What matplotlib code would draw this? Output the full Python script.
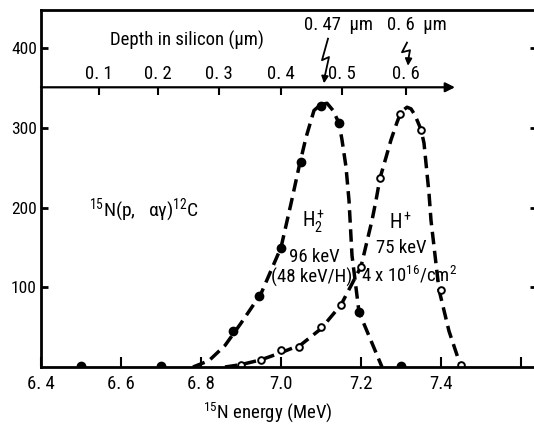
import matplotlib.pyplot as plt

FONT = 'Roboto Condensed'
plt.rcParams['font.family'] = [FONT, 'DejaVu Sans']
plt.rcParams['mathtext.fontset'] = 'custom'
plt.rcParams['mathtext.rm'] = FONT
plt.rcParams['mathtext.it'] = FONT + ':italic'
plt.rcParams['mathtext.bf'] = FONT + ':bold'

# dashed curves
h2_curve_e = [6.78, 6.82, 6.86, 6.90, 6.95, 7.00, 7.025, 7.045, 7.0625, 7.0825, 7.099,
              7.115, 7.13, 7.145, 7.1525, 7.1625, 7.17, 7.1775, 7.195, 7.2275, 7.2525]
h2_curve_y = [0, 8, 27, 55, 92, 150, 205, 251, 288, 322, 329,
              331, 322, 306, 285, 251, 209, 140, 69, 30, 0]
h_curve_e = [6.86, 6.90, 6.95, 7.00, 7.05, 7.10, 7.15, 7.20, 7.2275, 7.2375, 7.2475,
             7.2625, 7.275, 7.29, 7.30, 7.315, 7.325, 7.335, 7.35, 7.3575, 7.365,
             7.37, 7.375, 7.395, 7.42, 7.45]
h_curve_y = [0, 3, 9, 18, 28, 48, 78, 126, 184, 209, 237,
             263, 285, 307, 320, 326, 324, 316, 298, 281, 243,
             218, 184, 97, 45, 0]

# measured points
h2_e = [6.5, 6.7, 6.88, 6.945, 7.0, 7.05, 7.099, 7.145, 7.195, 7.3]
h2_y = [1, 1, 45, 89, 149, 257, 327, 306, 69, 1]
h_e = [6.9, 6.95, 7.0, 7.045, 7.1, 7.15, 7.2, 7.2475, 7.297, 7.35, 7.4, 7.45]
h_y = [3, 9, 21, 25, 50, 78, 126, 237, 317, 298, 97, 2]

# depth scale drawn inside the plot
depth_labels = ['0. 1', '0. 2', '0. 3', '0. 4', '0. 5', '0. 6']
depth_energy = [6.545, 6.6925, 6.845, 7.0, 7.1525, 7.3125]

x_ticks = [6.4, 6.6, 6.8, 7.0, 7.2, 7.4, 7.6]
x_labels = ['6. 4', '6. 6', '6. 8', '7.0', '7.2', '7.4', '']
y_ticks = [100, 200, 300, 400]

fig = plt.figure(figsize=(5.34, 4.30), dpi=100)
ax = fig.add_axes([41 / 534, 63 / 430, (537 - 41) / 534, 357 / 430])
ax.set_xlim(6.4, 7.64)
ax.set_ylim(0, 448)

ax.plot(h2_curve_e, h2_curve_y, color='black', lw=2.5, dashes=(3.6, 1.9))
ax.plot(h_curve_e, h_curve_y, color='black', lw=2.5, dashes=(3.6, 1.9))
ax.plot(h2_e, h2_y, 'o', color='black', ms=6)
ax.plot(h_e, h_y, 'o', mfc='white', mec='black', mew=1.4, ms=4.8)

for s in ['left', 'bottom', 'top']:
    ax.spines[s].set_linewidth(2)
ax.spines['right'].set_visible(False)

ax.set_xticks(x_ticks)
ax.set_xticklabels(x_labels, fontsize=13.5)
ax.set_yticks(y_ticks)
ax.set_yticklabels([str(v) for v in y_ticks], fontsize=12.5)
ax.tick_params(axis='x', direction='in', length=7, width=1.5, pad=6)
ax.tick_params(axis='y', direction='in', length=5, width=2, pad=3, right=True)

# depth axis
ax.annotate('', xy=(7.435, 351), xytext=(6.4, 351),
            arrowprops=dict(arrowstyle='-|>', color='black', lw=1.6,
                            mutation_scale=14, shrinkA=0, shrinkB=0))
ax.plot(depth_energy, [351] * len(depth_energy), ls='none', marker=3,
        color='black', ms=6, mew=1.5, clip_on=False)
for e, lab in zip(depth_energy, depth_labels):
    ax.text(e, 357, lab, ha='center', va='bottom', fontsize=13.5)
ax.text(6.765, 410, 'Depth in silicon (μm)', ha='center', va='center', fontsize=13.5)

ax.text(7.145, 429, '0. 47  μm', ha='center', va='center', fontsize=13.5)
ax.text(7.34, 429, '0. 6  μm', ha='center', va='center', fontsize=13.5)
bolt1_e = [7.1175, 7.1025, 7.12, 7.11]
bolt1_y = [412, 385, 389, 366]
bolt2_e = [7.315, 7.3025, 7.3225, 7.319]
bolt2_y = [407, 395, 397.5, 388]
ax.plot(bolt1_e, bolt1_y, color='black', lw=1.3)
ax.plot(bolt2_e, bolt2_y, color='black', lw=1.3)
ax.annotate('', xy=(7.1075, 356), xytext=(bolt1_e[-1], bolt1_y[-1]),
            arrowprops=dict(arrowstyle='-|>', color='black', lw=1.3,
                            mutation_scale=10, shrinkA=0, shrinkB=0))
ax.annotate('', xy=(7.3175, 378), xytext=(bolt2_e[-1], bolt2_y[-1]),
            arrowprops=dict(arrowstyle='-|>', color='black', lw=1.3,
                            mutation_scale=10, shrinkA=0, shrinkB=0))

ax.text(6.52, 197, '$^{15}$N(p,   αγ)$^{12}$C', ha='left', va='center', fontsize=14)
ax.text(7.0825, 182, 'H$_2^+$', ha='center', va='center', fontsize=14.5)
ax.text(7.30, 182, 'H$^+$', ha='center', va='center', fontsize=14.5)
ax.text(7.0825, 138, '96 keV', ha='center', va='center', fontsize=13.5)
ax.text(7.0775, 113, '(48 keV/H)', ha='center', va='center', fontsize=13.5)
ax.text(7.30, 149, '75 keV', ha='center', va='center', fontsize=13.5)
ax.text(7.32, 116, '4 x 10$^{16}$/cm$^2$', ha='center', va='center', fontsize=13.5)

ax.text(0.4577, -0.126, '$^{15}$N energy (MeV)', transform=ax.transAxes,
        ha='center', va='center', fontsize=13.5)

fig.savefig('out.png', dpi=100)
